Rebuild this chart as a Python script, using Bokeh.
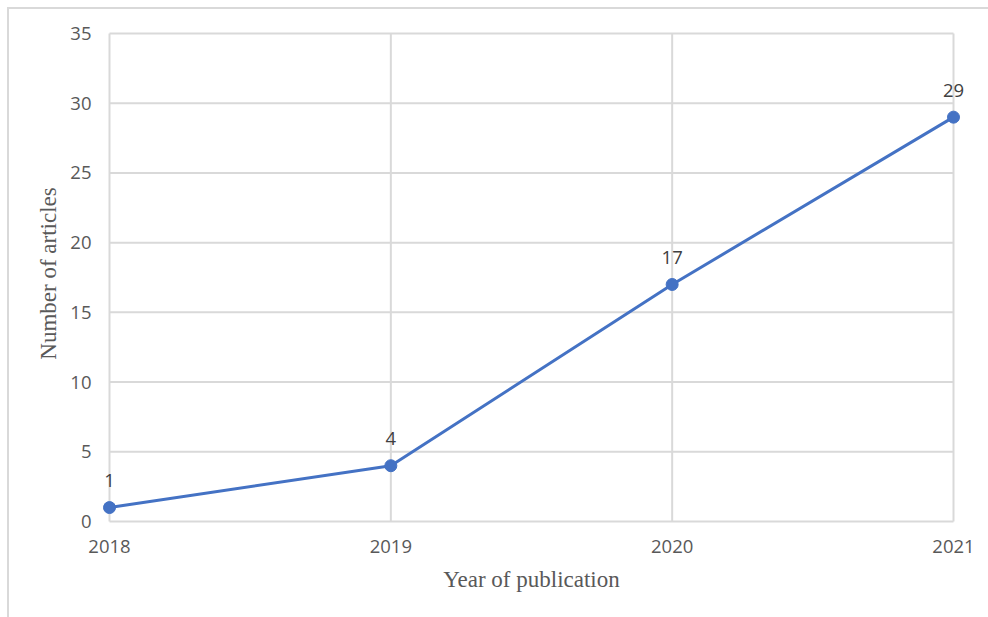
from bokeh.plotting import figure
from bokeh.models import Range1d, FixedTicker, ColumnDataSource, Label
from bokeh.embed import file_html
from bokeh.resources import INLINE

years = [2018, 2019, 2020, 2021]
articles = [1, 4, 17, 29]
y_ticks = [0, 5, 10, 15, 20, 25, 30, 35]

src = ColumnDataSource(dict(x=years, y=articles))

# layout (pixels)
fw, fh = 844, 488
padx, pad_top, pad_bot = 12, 10, 2
ppx = fw / (years[-1] - years[0])
ppy = fh / (y_ticks[-1] - y_ticks[0])

p = figure(
    frame_width=fw + 2 * padx, frame_height=fh + pad_top + pad_bot,
    min_border_left=88, min_border_right=23, min_border_top=14, min_border_bottom=94,
    x_range=Range1d(years[0] - padx / ppx, years[-1] + padx / ppx),
    y_range=Range1d(y_ticks[0] - pad_bot / ppy, y_ticks[-1] + pad_top / ppy),
    output_backend="svg", toolbar_location=None,
    margin=(7, 0, 0, 7),
    styles={"border-left": "2px solid #d9d9d9", "border-top": "2px solid #d9d9d9"},
)
p.outline_line_color = None
p.background_fill_color = "white"
p.border_fill_color = "white"
p.xgrid.visible = False
p.ygrid.visible = False

p.xaxis.ticker = FixedTicker(ticks=years)
p.yaxis.ticker = FixedTicker(ticks=y_ticks)

for ax in (p.xaxis, p.yaxis):
    ax.major_tick_in = 0
    ax.major_tick_out = 0
    ax.minor_tick_in = 0
    ax.minor_tick_out = 0
    ax.major_label_text_font = "Open Sans"
    ax.major_label_text_font_size = "18.5px"
    ax.major_label_text_color = "#595959"
    ax.axis_label_text_font = "Liberation Serif"
    ax.axis_label_text_font_size = "23px"
    ax.axis_label_text_font_style = "normal"
    ax.axis_label_text_color = "#595959"
    ax.axis_line_color = None

p.xaxis.major_label_standoff = 16
p.yaxis.major_label_standoff = 6
p.xaxis.axis_label = "Year of publication"
p.yaxis.axis_label = "Number of articles"
p.xaxis.axis_label_standoff = 11
p.yaxis.axis_label_standoff = 6

# gridlines spanning exactly the data extent
hgrid = ColumnDataSource(dict(x0=[years[0]] * len(y_ticks), x1=[years[-1]] * len(y_ticks),
                              y0=y_ticks, y1=y_ticks))
vgrid = ColumnDataSource(dict(x0=years, x1=years, y0=[y_ticks[0]] * len(years),
                              y1=[y_ticks[-1]] * len(years)))
p.segment("x0", "y0", "x1", "y1", source=hgrid, line_color="#d9d9d9", line_width=2)
p.segment("x0", "y0", "x1", "y1", source=vgrid, line_color="#d9d9d9", line_width=2)

p.line("x", "y", source=src, line_color="#4472C4", line_width=3)
p.scatter("x", "y", source=src, size=12, fill_color="#4472C4", line_color="#4472C4")

for xv, yv in zip(years, articles):
    p.add_layout(Label(x=xv, y=yv, text=str(yv), text_align="center", text_baseline="middle",
                       y_offset=27, text_font="Open Sans", text_font_size="18.5px",
                       text_color="#404040"))

open("out.html", "w").write(file_html(p, INLINE))
